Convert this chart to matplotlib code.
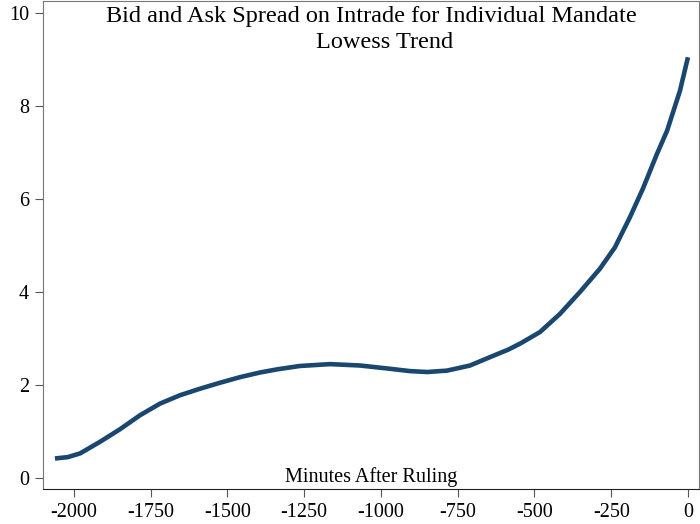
import numpy as np
import matplotlib.pyplot as plt

plt.rcParams['font.family'] = ['Liberation Serif', 'DejaVu Serif']
plt.rcParams['axes.unicode_minus'] = False

# Lowess trend
minutes = [-2062, -2020, -1980, -1915, -1850, -1785, -1720, -1655, -1590, -1524,
           -1459, -1394, -1336, -1264, -1166, -1068, -971, -906, -850, -785,
           -710, -645, -586, -547, -482, -417, -352, -287, -238, -189,
           -147, -101, -68, -26, 0]
spread = [0.42, 0.45, 0.53, 0.78, 1.05, 1.35, 1.60, 1.78, 1.92, 2.05,
          2.17, 2.27, 2.34, 2.41, 2.45, 2.42, 2.35, 2.30, 2.28, 2.31,
          2.42, 2.60, 2.76, 2.89, 3.14, 3.53, 4.00, 4.50, 4.96, 5.61,
          6.22, 6.97, 7.47, 8.33, 9.05]

xticks = [-2000, -1750, -1500, -1250, -1000, -750, -500, -250, 0]
yticks = [0, 2, 4, 6, 8, 10]

fig = plt.figure(figsize=(7, 5.24), dpi=100)
ax = fig.add_axes([43/700, 35/524, 656/700, 488/524])

ax.plot(minutes, spread, color='#1a476f', lw=3.3, solid_capstyle='butt')

ax.set_xlim(-2101, 36)
ax.set_ylim(-0.236, 10.26)
ax.set_xticks(xticks)
ax.set_yticks(yticks)
ax.tick_params(axis='both', labelsize=14.5, length=6, color='#555555', pad=4)

for s in ['top', 'right', 'left']:
    ax.spines[s].set_color('#777777')
ax.spines['bottom'].set_color('#222222')

ax.text(0.5, 0.989, 'Bid and Ask Spread on Intrade for Individual Mandate',
        transform=ax.transAxes, ha='center', va='top', fontsize=17.5)
ax.text(0.52, 0.936, 'Lowess Trend',
        transform=ax.transAxes, ha='center', va='top', fontsize=17.5)
ax.text(0.5, 0.005, 'Minutes After Ruling', transform=ax.transAxes,
        ha='center', va='bottom', fontsize=14.5)

fig.savefig('out.png', dpi=100)
